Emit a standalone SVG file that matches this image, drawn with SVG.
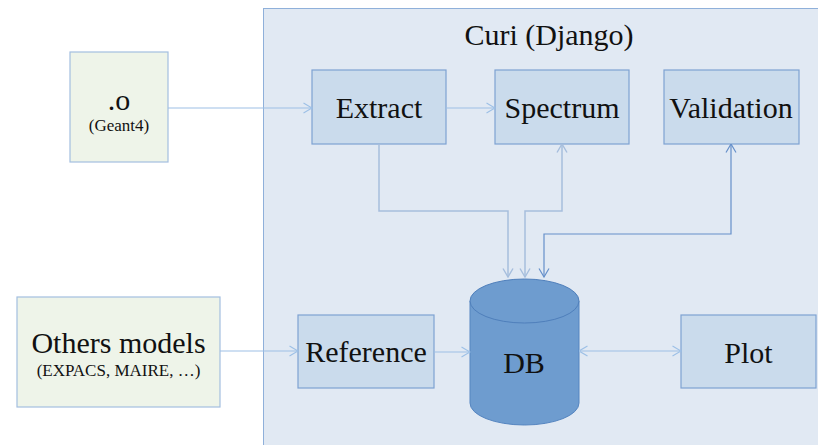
<svg xmlns="http://www.w3.org/2000/svg" width="818" height="445" viewBox="0 0 818 445" font-family="'Liberation Serif', 'DejaVu Serif', 'Times New Roman', serif">
<style>
  text { font-family: "Liberation Serif", "DejaVu Serif", "Times New Roman", serif; fill: #111; text-anchor: middle; }
  .big { font-size: 30px; }
  .small { font-size: 17px; }
  .box { fill: #CADBEC; stroke: #7EA2D2; stroke-width: 1.2; }
  .ext { fill: #EEF4E9; stroke: #A3BEE0; stroke-width: 1.2; }
  .c1 { fill: none; stroke: #9DC0E6; stroke-width: 1.2; }
  .c2 { fill: none; stroke: #A6BEDD; stroke-width: 1.5; }
  .c3 { fill: none; stroke: #6690CA; stroke-width: 1.2; }
</style>
<defs>
  <marker id="ah1" viewBox="0 0 10 12" refX="9.5" refY="6" markerWidth="10" markerHeight="12" markerUnits="userSpaceOnUse" orient="auto-start-reverse">
    <path d="M1,1 L9.5,6 L1,11" fill="none" stroke="#9DC0E6" stroke-width="1.2"/>
  </marker>
  <marker id="ah2" viewBox="0 0 10 12" refX="9.5" refY="6" markerWidth="10" markerHeight="12" markerUnits="userSpaceOnUse" orient="auto-start-reverse">
    <path d="M1,1 L9.5,6 L1,11" fill="none" stroke="#A6BEDD" stroke-width="1.4"/>
  </marker>
  <marker id="ah3" viewBox="0 0 10 12" refX="9.5" refY="6" markerWidth="10" markerHeight="12" markerUnits="userSpaceOnUse" orient="auto-start-reverse">
    <path d="M1,1 L9.5,6 L1,11" fill="none" stroke="#6690CA" stroke-width="1.2"/>
  </marker>
</defs>
<rect width="818" height="445" fill="#FFFFFF"/>

<g id="curi">
  <rect x="263.5" y="8.5" width="570" height="450" fill="#E1E9F3" stroke="#8FB0DA" stroke-width="1"/>
  <text class="big" x="549" y="45">Curi (Django)</text>
</g>

<g id="geant4">
  <rect class="ext" x="70" y="52" width="98" height="110"/>
  <text class="big" x="119" y="110">.o</text>
  <text class="small" x="119" y="131">(Geant4)</text>
</g>

<g id="others">
  <rect class="ext" x="17" y="297" width="203" height="110"/>
  <text class="big" x="118.5" y="353">Others models</text>
  <text class="small" x="118.5" y="376">(EXPACS, MAIRE, …)</text>
</g>

<g id="extract">
  <rect class="box" x="312" y="70" width="134" height="74"/>
  <text class="big" x="379" y="118">Extract</text>
</g>

<g id="spectrum">
  <rect class="box" x="495" y="70" width="134" height="74"/>
  <text class="big" x="562" y="118">Spectrum</text>
</g>

<g id="validation">
  <rect class="box" x="664" y="70" width="135" height="74"/>
  <text class="big" x="731" y="118">Validation</text>
</g>

<g id="reference">
  <rect class="box" x="298" y="315" width="136" height="73"/>
  <text class="big" x="366" y="362">Reference</text>
</g>

<g id="plot">
  <rect class="box" x="681" y="315" width="135" height="73"/>
  <text class="big" x="748.5" y="363">Plot</text>
</g>

<g id="db">
  <path d="M470,301 L470,403 A54.5,22 0 0 0 579,403 L579,301" fill="#6E9CCF" stroke="#5585C0" stroke-width="1"/>
  <ellipse cx="524.5" cy="301" rx="54.5" ry="22" fill="#6E9CCF" stroke="#4F7FBB" stroke-width="1"/>
  <text class="big" x="524" y="373">DB</text>
</g>

<g id="connectors">
  <path class="c1" d="M168,108 L312,108" marker-end="url(#ah1)"/>
  <path class="c1" d="M446,108 L495,108" marker-end="url(#ah1)"/>
  <path class="c1" d="M220,351 L298,351" marker-end="url(#ah1)"/>
  <path class="c1" d="M434,352 L470,352" marker-end="url(#ah1)"/>
  <path class="c1" d="M579,351 L681,351" marker-start="url(#ah1)" marker-end="url(#ah1)"/>
  <path class="c2" d="M379,144 L379,211 L508,211 L508,277" marker-end="url(#ah2)"/>
  <path class="c2" d="M525,277 L525,211 L562,211 L562,144" marker-start="url(#ah2)" marker-end="url(#ah2)"/>
  <path class="c3" d="M544,277 L544,234 L731,234 L731,144" marker-start="url(#ah3)" marker-end="url(#ah3)"/>
</g>
</svg>
